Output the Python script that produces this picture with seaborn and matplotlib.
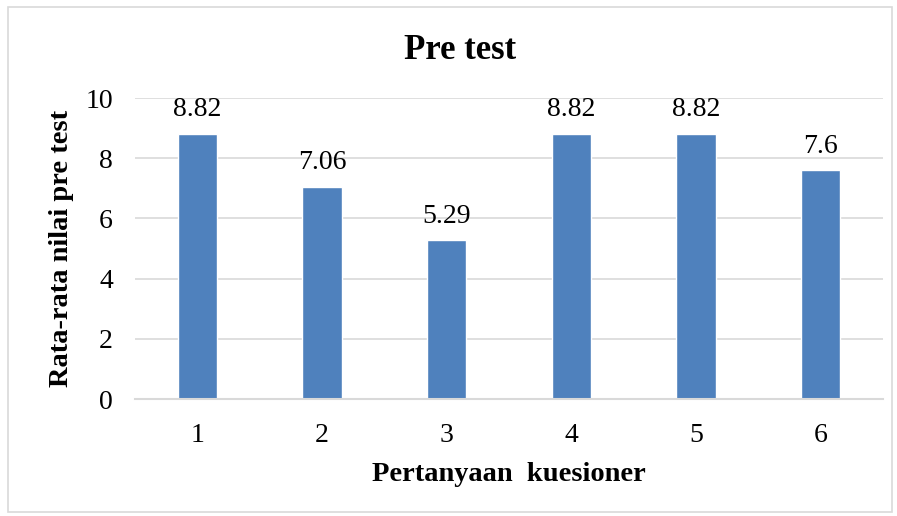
import pandas as pd
import matplotlib.pyplot as plt
import seaborn as sns
from matplotlib.patches import Rectangle

# data
questions = ["1", "2", "3", "4", "5", "6"]
mean_scores = [8.82, 7.06, 5.29, 8.82, 8.82, 7.6]
score_labels = ["8.82", "7.06", "5.29", "8.82", "8.82", "7.6"]

df = pd.DataFrame({"Pertanyaan": questions, "Nilai": mean_scores})

sns.set_style("white")
plt.rcParams["font.family"] = ["Liberation Serif", "DejaVu Serif"]
plt.rcParams["text.color"] = "black"
plt.rcParams["axes.labelcolor"] = "black"

fig = plt.figure(figsize=(8.97, 5.16), dpi=100)
ax = fig.add_axes([0.1505, 0.2267, 0.8339, 0.5833])

sns.barplot(data=df, x="Pertanyaan", y="Nilai", color="#4F81BD",
            saturation=1, width=0.313, ax=ax)

ax.set_ylim(0, 10)
ax.set_xlim(-0.5, 5.5)
ax.set_yticks([0, 2, 4, 6, 8, 10])
ax.yaxis.grid(True, color="#D9D9D9", linewidth=1.2)
ax.set_axisbelow(True)
for side in ["left", "right", "top"]:
    ax.spines[side].set_visible(False)
ax.spines["bottom"].set_color("#D9D9D9")
ax.spines["bottom"].set_linewidth(1.5)
ax.tick_params(axis="both", length=0, labelsize=20, colors="black")
ax.tick_params(axis="x", pad=17)
ax.tick_params(axis="y", pad=16)

for p, lab in zip(ax.patches, score_labels):
    ax.annotate(lab, (p.get_x() + p.get_width() / 2, p.get_height()),
                xytext=(0, 8), textcoords="offset points",
                ha="center", va="bottom", fontsize=20)

ax.set_xlabel("Pertanyaan  kuesioner", fontsize=20.5, fontweight="bold", labelpad=10)
ax.set_ylabel("Rata-rata nilai pre test", fontsize=20.5, fontweight="bold", labelpad=8)
fig.text(0.513, 0.903, "Pre test", ha="center", va="center",
         fontsize=25, fontweight="bold")

# light outer frame like the chart area border
fig.patches.append(Rectangle((8 / 897, 4 / 516), 884 / 897, 505 / 516,
                             transform=fig.transFigure, fill=False,
                             edgecolor="#D9D9D9", linewidth=1.2))

fig.savefig("out.png", dpi=100)
